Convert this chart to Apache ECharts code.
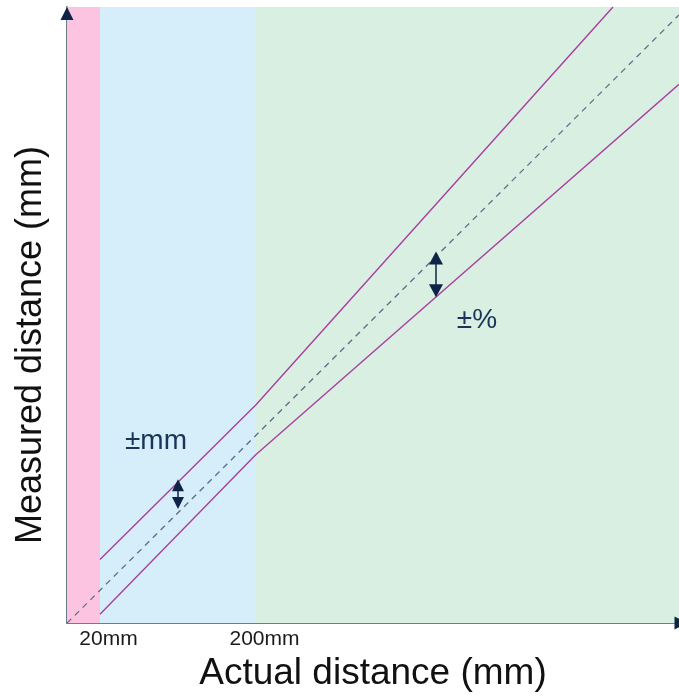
<!DOCTYPE html>
<html>
<head>
<meta charset="utf-8">
<script src="https://cdn.jsdelivr.net/npm/echarts@6/dist/echarts.min.js"></script>
<style>
html,body{margin:0;padding:0;background:#fff;}
#chart{width:679px;height:697px;}
</style>
</head>
<body>
<div id="chart"></div>
<script>
// Schematic units (not to scale)
var xMax = 612, yMax = 621;
var zoneBounds = [0, 33, 189, 612];           // pink | blue | green
var zoneColors = ['#fdc4e2', '#d6eef9', '#d9efe1'];
var tickValues = [33, 189];
var tickLabels = ['20mm', '200mm'];
var idealLine = [[0, 0], [612, 613]];
var upperLine = [[33, 64], [189, 220], [546, 621]];
var lowerLine = [[33, 9], [189, 170], [612, 543]];
var mmArrow = { x: 111, y: [139, 121] };
var pctArrow = { x: 369, y: [368, 335] };
var mmLabel = { x: 89, y: 183, text: '±mm' };
var pctLabel = { x: 410, y: 305, text: '±%' };

var navy = '#0d2446';
var chart = echarts.init(document.getElementById('chart'), null, { renderer: 'canvas' });

var areas = [];
for (var i = 0; i < zoneColors.length; i++) {
  areas.push([{ xAxis: zoneBounds[i], itemStyle: { color: zoneColors[i] } }, { xAxis: zoneBounds[i + 1] }]);
}

chart.setOption({
  animation: false,
  grid: { left: 67, right: 0, top: 7, bottom: 69, containLabel: false },
  xAxis: {
    type: 'value', min: 0, max: xMax,
    splitLine: { show: false },
    axisTick: { show: false },
    axisLine: { show: true, onZero: false, lineStyle: { color: '#6b7c93', width: 2 } },
    axisLabel: {
      show: true, customValues: tickValues,
      formatter: function (v) { var k = tickValues.indexOf(v); return k >= 0 ? tickLabels[k] : ''; },
      color: '#1a1a1a', fontSize: 21, fontFamily: 'Liberation Sans, Arial, sans-serif',
      margin: 6, padding: [0, 0, 0, 17]
    },
    name: 'Actual distance (mm)', nameLocation: 'middle', nameGap: 31,
    nameTextStyle: { color: '#111', fontSize: 37, fontFamily: 'Liberation Sans, Arial, sans-serif' }
  },
  yAxis: {
    type: 'value', min: 0, max: yMax,
    splitLine: { show: false },
    axisTick: { show: false },
    axisLabel: { show: false },
    axisLine: { show: true, onZero: false, lineStyle: { color: '#6b7c93', width: 2 } }
  },
  graphic: [{
    type: 'text', x: 31, y: 345, rotation: Math.PI / 2,
    style: { text: 'Measured distance (mm)', fill: '#111', font: '36px "Liberation Sans", Arial, sans-serif',
      textAlign: 'center', textVerticalAlign: 'middle' }
  }],
  series: [
    {
      type: 'line', data: idealLine, symbol: 'none', silent: true, z: 3,
      lineStyle: { color: '#5a6f87', width: 1.3, type: [6, 5] },
      markArea: { silent: true, data: areas },
      markPoint: {
        silent: true,
        data: [
          { coord: [0, yMax], symbol: 'triangle', symbolSize: [13, 13], symbolOffset: [0, 6.5], itemStyle: { color: navy }, label: { show: false } },
          { coord: [xMax, 0], symbol: 'triangle', symbolSize: [13, 13], symbolRotate: -90, symbolOffset: [2, 0], itemStyle: { color: navy }, label: { show: false } },
          { coord: [mmLabel.x, mmLabel.y], symbolSize: 0, label: { show: true, formatter: mmLabel.text, color: '#1b3358', fontSize: 28, fontFamily: 'Liberation Sans, Arial, sans-serif', position: 'inside' } },
          { coord: [pctLabel.x, pctLabel.y], symbolSize: 0, label: { show: true, formatter: pctLabel.text, color: '#1b3358', fontSize: 28, fontFamily: 'Liberation Sans, Arial, sans-serif', position: 'inside' } }
        ]
      }
    },
    {
      type: 'line', data: upperLine, symbol: 'none', silent: true, z: 4,
      lineStyle: { color: '#aa3fa0', width: 1.4 }
    },
    {
      type: 'line', data: lowerLine, symbol: 'none', silent: true, z: 4,
      lineStyle: { color: '#aa3fa0', width: 1.4 },
      markLine: {
        silent: true, symbol: ['triangle', 'triangle'],
        label: { show: false },
        lineStyle: { color: navy, width: 1.5, type: 'solid' },
        data: [
          [{ coord: [mmArrow.x, mmArrow.y[0]], symbolSize: [12, 12] }, { coord: [mmArrow.x, mmArrow.y[1]], symbolSize: [12, 12] }],
          [{ coord: [pctArrow.x, pctArrow.y[0]], symbolSize: [14, 13] }, { coord: [pctArrow.x, pctArrow.y[1]], symbolSize: [14, 13] }]
        ]
      }
    }
  ]
});
</script>
</body>
</html>
